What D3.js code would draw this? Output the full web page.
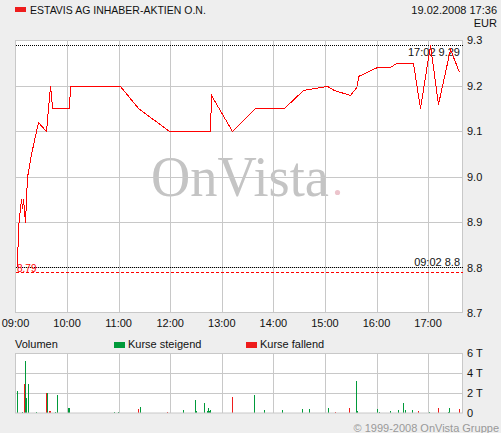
<!DOCTYPE html>
<html><head><meta charset="utf-8">
<script src="https://cdn.jsdelivr.net/npm/d3@7"></script>
<style>
html,body{margin:0;padding:0;background:#eeeeee;}
svg{display:block;font-family:"Liberation Sans",Arial,sans-serif;}
</style></head>
<body>
<script>
// ---- data ----
const title = "ESTAVIS AG INHABER-AKTIEN O.N.";
const stamp = "19.02.2008 17:36";
const currency = "EUR";
const priceTimes = ["09:02","09:03","09:06","09:08","09:09","09:11","09:13","09:18","09:24","09:26","09:36","09:40","09:41","09:42","10:02","10:03","11:01","11:22","11:58","12:46","12:48","13:12","13:39","14:12","14:35","15:02","15:10","15:29","15:37","15:39","16:00","16:16","16:23","16:43","16:50","17:02","17:12","17:26","17:36"];
const priceValues = [8.80,8.89,8.95,8.93,8.95,8.90,9.00,9.05,9.10,9.12,9.10,9.20,9.18,9.15,9.15,9.20,9.20,9.15,9.10,9.10,9.18,9.10,9.15,9.15,9.19,9.20,9.19,9.18,9.20,9.22,9.24,9.24,9.25,9.25,9.15,9.29,9.16,9.28,9.23];
const prevClose = 8.79;
const dayHigh = {time:"17:02", value:9.29};
const dayLow = {time:"09:02", value:8.80};
const priceTicks = [8.7,8.8,8.9,9.0,9.1,9.2,9.3];
const hourTicks = ["09:00","10:00","11:00","12:00","13:00","14:00","15:00","16:00","17:00"];
const volTimes = ["09:02","09:07","09:10","09:11","09:12","09:14","09:24","09:36","09:37","09:39","09:40","09:46","09:48","10:01","10:02","10:55","10:59","11:22","11:25","11:56","12:15","12:29","12:30","12:39","12:43","12:44","12:45","12:46","13:12","13:38","13:49","14:10","14:33","14:42","15:04","15:12","15:28","15:36","15:37","16:00","16:03","16:16","16:25","16:31","16:33","16:41","16:48","17:01","17:12","17:23","17:24","17:36"];
const volValues = [2.2,0.1,2.9,5.2,1.5,2.9,0.1,2.0,2.0,0.2,0.2,0.1,1.8,0.5,0.5,0.1,0.1,0.4,0.6,0.1,0.3,1.3,0.2,1.0,0.2,0.5,0.2,0.3,1.6,1.8,0.3,0.3,0.4,0.4,0.5,0.1,0.5,3.2,0.2,0.4,0.1,0.2,0.3,1.0,0.3,0.3,0.2,0.1,0.5,0.1,0.5,0.4];
const volDir = ["u","u","d","u","u","u","u","d","u","d","d","u","u","u","u","u","u","d","u","d","u","u","u","u","u","u","u","u","d","u","u","u","u","u","u","d","d","u","u","u","u","u","u","u","u","u","d","u","d","u","u","d"];
const volTicks = [0,2,4,6];
const volTickLabels = ["0","2 T","4 T","6 T"];
const legendLabels = ["Volumen","Kurse steigend","Kurse fallend"];
const copyright = "\u00a9 1999-2008 OnVista Gruppe";

// ---- setup ----
const W = 501, H = 433;
const parse = d3.timeParse("%H:%M");
const svg = d3.select("body").append("svg").attr("width", W).attr("height", H);
const GREEN = "#009a3a", RED = "#ee1c1c", GRID = "#c8c8c8";

const x = d3.scaleTime().domain([parse("09:00"), new Date(parse("17:40").getTime() + 36000)]).range([15.5, 463]);
const y = d3.scaleLinear().domain([8.7, 9.3]).range([313, 40]);
const yv = d3.scaleLinear().domain([0, 6]).range([413, 353]);
const px = v => Math.round(v) + 0.5;

// header
svg.append("rect").attr("x", 15).attr("y", 7).attr("width", 11).attr("height", 5).attr("fill", RED);
svg.append("text").attr("x", 30).attr("y", 14).attr("font-size", 10.5).attr("fill", "#111").text(title);
svg.append("text").attr("x", 497).attr("y", 14).attr("text-anchor", "end").attr("font-size", 11).attr("fill", "#111").text(stamp);
svg.append("text").attr("x", 497).attr("y", 27).attr("text-anchor", "end").attr("font-size", 11).attr("fill", "#111").text(currency);

// price plot
svg.append("rect").attr("x", 15.5).attr("y", 40.5).attr("width", 447).attr("height", 272).attr("fill", "#fff");

// watermark
svg.append("text").attr("x", 151).attr("y", 196).attr("font-family", "'Liberation Serif','DejaVu Serif',serif")
  .attr("font-size", 58).attr("textLength", 178).attr("lengthAdjust", "spacingAndGlyphs")
  .attr("fill", "#c4c4c4").text("OnVista");
svg.append("circle").attr("cx", 337.5).attr("cy", 192.5).attr("r", 2.6).attr("fill", "#ecc4cc");

const gp = svg.append("g");
gp.selectAll("line.h").data(priceTicks.filter(d => d > 8.7 && d < 9.3)).join("line")
  .attr("x1", 15.5).attr("x2", 463).attr("y1", d => px(y(d))).attr("y2", d => px(y(d)))
  .attr("stroke", GRID);
gp.selectAll("line.v").data(hourTicks.slice(1)).join("line")
  .attr("x1", d => px(x(parse(d)))).attr("x2", d => px(x(parse(d))))
  .attr("y1", 40).attr("y2", 313).attr("stroke", GRID);
svg.append("rect").attr("x", 15.5).attr("y", 40.5).attr("width", 447).attr("height", 272).attr("fill", "none").attr("stroke", GRID);

// high/low/prev close lines
const hy = px(y(dayHigh.value)), ly = px(y(dayLow.value)), py = px(y(prevClose));
svg.append("line").attr("x1", 16).attr("x2", 463).attr("y1", hy).attr("y2", hy).attr("stroke", "#000").attr("stroke-dasharray", "1,1");
svg.append("line").attr("x1", 16).attr("x2", 463).attr("y1", ly).attr("y2", ly).attr("stroke", "#000").attr("stroke-dasharray", "1,1");
svg.append("line").attr("x1", 16).attr("x2", 463).attr("y1", py).attr("y2", py).attr("stroke", "#f00").attr("stroke-dasharray", "3,2");
svg.append("text").attr("x", 460).attr("y", hy + 10).attr("text-anchor", "end").attr("font-size", 11).attr("fill", "#111").text(dayHigh.time + " " + dayHigh.value);
svg.append("text").attr("x", 460).attr("y", ly - 2).attr("text-anchor", "end").attr("font-size", 11).attr("fill", "#111").text(dayLow.time + " " + dayLow.value);
svg.append("text").attr("x", 17).attr("y", py - 1).attr("font-size", 10).attr("fill", "#f00").text(prevClose.toFixed(2));

// price line
const line = d3.line().x((d, i) => px(x(parse(priceTimes[i])))).y(d => px(y(d)));
svg.append("path").datum(priceValues).attr("d", line).attr("fill", "none").attr("stroke", "#f00")
  .attr("stroke-width", 1).attr("shape-rendering", "crispEdges");

// axes labels
svg.selectAll("text.yl").data(priceTicks).join("text").attr("x", 467).attr("y", d => y(d) + 4)
  .attr("font-size", 11).attr("fill", "#111").text(d => d.toFixed(1));
svg.selectAll("text.xl").data(hourTicks).join("text").attr("x", d => x(parse(d))).attr("y", 327)
  .attr("text-anchor", "middle").attr("font-size", 11).attr("fill", "#111").text(d => d);

// volume legend
svg.append("text").attr("x", 15).attr("y", 348).attr("font-size", 11).attr("fill", "#111").text(legendLabels[0]);
svg.append("rect").attr("x", 114).attr("y", 342).attr("width", 11).attr("height", 6).attr("fill", GREEN);
svg.append("text").attr("x", 128).attr("y", 348).attr("font-size", 11).attr("fill", "#111").text(legendLabels[1]);
svg.append("rect").attr("x", 246).attr("y", 342).attr("width", 11).attr("height", 6).attr("fill", RED);
svg.append("text").attr("x", 260).attr("y", 348).attr("font-size", 11).attr("fill", "#111").text(legendLabels[2]);

// volume plot
svg.append("rect").attr("x", 15.5).attr("y", 353.5).attr("width", 447).attr("height", 59.5).attr("fill", "#fff");
const gv = svg.append("g");
gv.selectAll("line.h").data(volTicks.filter(d => d > 0 && d < 6)).join("line")
  .attr("x1", 15.5).attr("x2", 463).attr("y1", d => px(yv(d))).attr("y2", d => px(yv(d))).attr("stroke", GRID);
gv.selectAll("line.v").data(hourTicks.slice(1)).join("line")
  .attr("x1", d => px(x(parse(d)))).attr("x2", d => px(x(parse(d))))
  .attr("y1", 353).attr("y2", 413).attr("stroke", GRID);
svg.append("rect").attr("x", 15.5).attr("y", 353.5).attr("width", 447).attr("height", 59.5).attr("fill", "none").attr("stroke", GRID);
gv.selectAll("rect.bar").data(volValues).join("rect")
  .attr("x", (d, i) => Math.round(x(parse(volTimes[i]))))
  .attr("width", 1)
  .attr("y", d => Math.round(yv(d))).attr("height", d => Math.round(yv(0)) - Math.round(yv(d)))
  .attr("fill", (d, i) => volDir[i] === "u" ? GREEN : RED);
svg.selectAll("text.vl").data(volTicks).join("text").attr("x", 467).attr("y", d => yv(d) + 4)
  .attr("font-size", 11).attr("fill", "#111").text((d, i) => volTickLabels[i]);

// footer
svg.append("text").attr("x", 499).attr("y", 432).attr("text-anchor", "end").attr("font-size", 11).attr("fill", "#999").text(copyright);
</script>
</body></html>
